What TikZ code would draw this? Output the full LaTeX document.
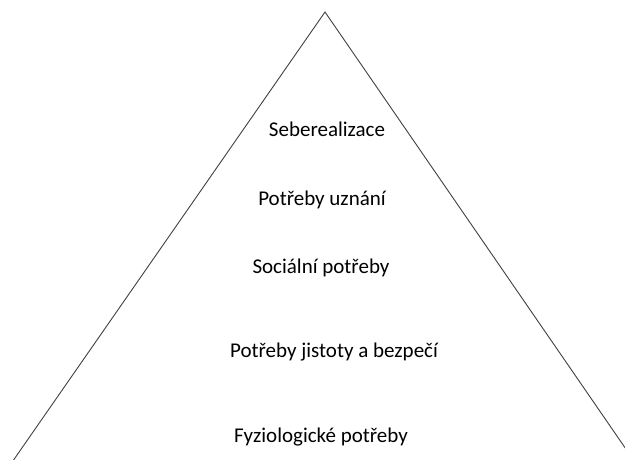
\documentclass[tikz,border=0pt]{standalone}
\usepackage{fontspec}
\setmainfont{Carlito}
\begin{document}
\begin{tikzpicture}[x=1pt,y=-1pt,
  lbl/.style={inner sep=0pt, font=\fontsize{21}{24}\selectfont, text=black, anchor=center},
  edge/.style={draw=black!75, line width=0.9pt}]
\useasboundingbox (0,0) rectangle (625,459);
\clip (0,0) rectangle (625,459);
\coordinate (apex) at (325,12);
\coordinate (bl) at (8,468);
\coordinate (br) at (639,468);
\draw[edge] (bl) -- (apex) -- (br);
\node[lbl] (s1) at (327,129) {Seberealizace};
\node[lbl] (s2) at (322,200) {Potřeby uznání};
\node[lbl] (s3) at (321,268) {Sociální potřeby};
\node[lbl] (s4) at (334,352) {Potřeby jistoty a bezpečí};
\node[lbl] (s5) at (321,437) {Fyziologické potřeby};
\end{tikzpicture}
\end{document}
